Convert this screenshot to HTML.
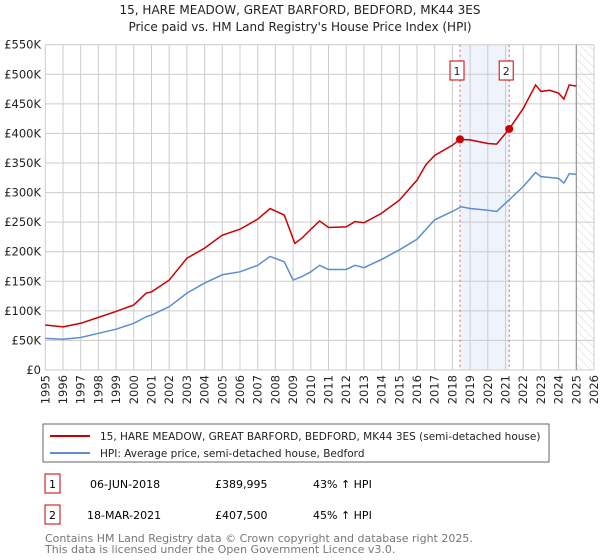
<!DOCTYPE html>
<html><head><meta charset="utf-8"><style>
body{margin:0;background:#fff;font-family:"Liberation Sans","DejaVu Sans",sans-serif;}
#wrap{position:relative;width:600px;height:560px;overflow:hidden;}
svg text{font-family:"DejaVu Sans","Liberation Sans",sans-serif;}
</style></head><body>
<div id="wrap">
<svg id="chart" width="600" height="560">
<text x="300" y="14" text-anchor="middle" font-size="12" fill="#222">15, HARE MEADOW, GREAT BARFORD, BEDFORD, MK44 3ES</text>
<text x="300" y="31" text-anchor="middle" font-size="12" fill="#222">Price paid vs. HM Land Registry's House Price Index (HPI)</text>
<defs><pattern id="hatch" width="6" height="6" patternUnits="userSpaceOnUse" patternTransform="rotate(-45)"><line x1="0" y1="0" x2="0" y2="6" stroke="#d6d6d6" stroke-width="1"/></pattern></defs>
<g id="grid"></g><g id="series"></g><g id="axes"></g>
<rect x="43" y="424" width="506" height="38" fill="#fff" stroke="#666"/>
<line x1="50" y1="436" x2="90" y2="436" stroke="#cc0000" stroke-width="2"/>
<text x="100" y="440" font-size="10.5" fill="#222">15, HARE MEADOW, GREAT BARFORD, BEDFORD, MK44 3ES (semi-detached house)</text>
<line x1="50" y1="453" x2="90" y2="453" stroke="#5b8fd0" stroke-width="2"/>
<text x="100" y="457" font-size="10.5" fill="#222">HPI: Average price, semi-detached house, Bedford</text>
<g>
<rect x="45" y="474" width="15" height="19" fill="#fff" stroke="#cc0000"/>
<text x="52.5" y="488" text-anchor="middle" font-size="11">1</text>
<text x="90" y="488" font-size="11">06-JUN-2018</text>
<text x="215" y="488" font-size="11">£389,995</text>
<text x="313" y="488" font-size="11">43% ↑ HPI</text></g>
<g>
<rect x="45" y="505" width="15" height="19" fill="#fff" stroke="#cc0000"/>
<text x="52.5" y="519" text-anchor="middle" font-size="11">2</text>
<text x="87" y="519" font-size="11">18-MAR-2021</text>
<text x="215" y="519" font-size="11">£407,500</text>
<text x="313" y="519" font-size="11">45% ↑ HPI</text></g>
<text x="45" y="542" font-size="11" fill="#777">Contains HM Land Registry data © Crown copyright and database right 2025.</text>
<text x="45" y="553" font-size="11" fill="#777">This data is licensed under the Open Government Licence v3.0.</text>
</svg></div>
<script>
const hpiYears=[1995,1996,1997,1998,1999,2000,2000.7,2001,2002,2003,2004,2005,2006,2007,2007.7,2008.5,2009,2009.5,2010,2010.5,2011,2012,2012.5,2013,2014,2015,2016,2017,2018,2018.5,2019,2020,2020.5,2021,2022,2022.7,2023,2024,2024.3,2024.6,2025];
const hpiValues=[53.5,52,55,62,69,79,90,93,107,130,147,161,166,177,192,183,152,158,166,177,170,170,177,173,187,203,221,254,268,276,273,270,268,282,310,334,327,324,316,332,331];
const propYears=[1995,1996,1997,1998,1999,2000,2000.7,2001,2002,2003,2004,2005,2006,2007,2007.7,2008.5,2009.1,2009.5,2010,2010.5,2011,2012,2012.5,2013,2014,2015,2016,2016.5,2017,2018,2018.43,2019,2020,2020.5,2021.21,2022,2022.7,2023,2023.5,2024,2024.3,2024.6,2025];
const propValues=[76,73,79,89,99,110,130,132,152,189,206,228,238,255,273,262,214,223,238,252,241,242,251,249,265,287,321,347,363,380,390,389,383,382,407.5,442,482,471,473,468,458,482,480];
const saleYears=[2018.43,2021.21];
const saleValues=[389.995,407.5];
const saleLabels=["1","2"];
const yTicks=[0,50,100,150,200,250,300,350,400,450,500,550];
const xTicks=[1995,1996,1997,1998,1999,2000,2001,2002,2003,2004,2005,2006,2007,2008,2009,2010,2011,2012,2013,2014,2015,2016,2017,2018,2019,2020,2021,2022,2023,2024,2025,2026];
const X0=45.3,X1=594,Y0=370,Y1=44.7;
const xs=y=>X0+(y-1995)/(2026-1995)*(X1-X0);
const ys=v=>Y0-v/550*(Y0-Y1);
const NS="http://www.w3.org/2000/svg";
function mk(tag,attrs,parent){const e=document.createElementNS(NS,tag);for(const k in attrs)e.setAttribute(k,attrs[k]);parent.appendChild(e);return e;}
const grid=document.getElementById('grid'),ser=document.getElementById('series'),axes=document.getElementById('axes');
const shade=mk('rect',{x:xs(saleYears[0]),y:Y1,width:xs(saleYears[1])-xs(saleYears[0]),height:Y0-Y1,fill:'#eef3fc'},grid);


const hat=mk('rect',{x:xs(2025),y:Y1,width:X1-xs(2025),height:Y0-Y1,fill:'url(#hatch)'},grid);


yTicks.forEach(t=>{
 mk('line',{x1:X0,x2:X1,y1:ys(t),y2:ys(t),stroke:'#ccc'},grid);
 const tx=mk('text',{x:41,y:ys(t)+4,'text-anchor':'end','font-size':11.5,fill:'#222'},axes);tx.textContent=t===0?'£0':'£'+t+'K';
 
 
});
xTicks.forEach(t=>{
 mk('line',{x1:xs(t),x2:xs(t),y1:Y1,y2:Y0,stroke:'#ccc'},grid);
 const tx=mk('text',{x:0,y:0,'text-anchor':'end','font-size':11.5,fill:'#222',transform:`translate(${xs(t)+4},${Y0+5}) rotate(-90)`},axes);tx.textContent=t;
 
 
});
mk('line',{x1:xs(2025),x2:xs(2025),y1:Y1,y2:Y0,stroke:'#888','stroke-width':1},grid);
saleYears.forEach((y,i)=>{
 const l=mk('line',{x1:xs(y),x2:xs(y),y1:Y1,y2:Y0,stroke:'#ee5555','stroke-dasharray':'2,3'},ser);
 
 
});
const hp=mk('polyline',{points:hpiYears.map((y,i)=>xs(y)+','+ys(hpiValues[i])).join(' '),fill:'none',stroke:'#5b8fd0','stroke-width':1.5},ser);


const pp=mk('polyline',{points:propYears.map((y,i)=>xs(y)+','+ys(propValues[i])).join(' '),fill:'none',stroke:'#cc0000','stroke-width':1.5},ser);


saleYears.forEach((y,i)=>{
 const c=mk('circle',{cx:xs(y),cy:ys(saleValues[i]),r:4,fill:'#cc0000'},ser);
 
 
 const g=mk('g',{},ser);
 
 
 mk('rect',{x:xs(y)-10,y:61,width:14,height:19,fill:'#fff',stroke:'#cc0000'},g);
 const t=mk('text',{x:xs(y)-3,y:75,'text-anchor':'middle','font-size':11,fill:'#222'},g);t.textContent=saleLabels[i];
});
</script>
</body></html>
